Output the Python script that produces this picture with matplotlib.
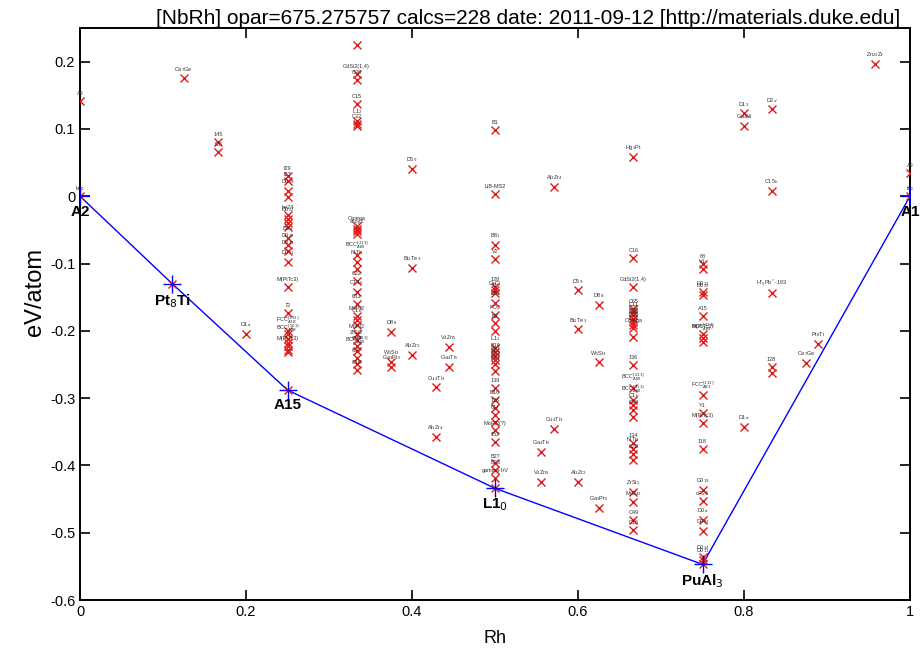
import matplotlib
matplotlib.use("Agg")
import matplotlib.pyplot as plt

plt.rcParams['font.family'] = ['Liberation Sans', 'DejaVu Sans']

title = "[NbRh] opar=675.275757 calcs=228 date: 2011-09-12 [http://materials.duke.edu]"

# all calculated structures: Rh fraction, formation energy (eV/atom), prototype
rh = [0, 0,
      0.125,
      0.1667, 0.1667,
      0.2,
      0.25, 0.25, 0.25, 0.25, 0.25, 0.25, 0.25, 0.25, 0.25, 0.25, 0.25, 0.25,
      0.25, 0.25, 0.25, 0.25, 0.25, 0.25, 0.25, 0.25, 0.25, 0.25,
      0.1111,
      0.3333, 0.3333, 0.3333, 0.3333, 0.3333, 0.3333, 0.3333,
      0.3333, 0.3333, 0.3333, 0.3333, 0.3333, 0.3333, 0.3333,
      0.3333, 0.3333, 0.3333, 0.3333, 0.3333, 0.3333, 0.3333,
      0.3333, 0.3333, 0.3333, 0.3333, 0.3333, 0.3333,
      0.375, 0.375, 0.375,
      0.4, 0.4, 0.4,
      0.4286, 0.4286,
      0.4444, 0.4444,
      0.5, 0.5, 0.5, 0.5, 0.5, 0.5, 0.5, 0.5, 0.5, 0.5, 0.5,
      0.5, 0.5, 0.5, 0.5, 0.5, 0.5, 0.5, 0.5, 0.5, 0.5, 0.5,
      0.5, 0.5, 0.5, 0.5, 0.5, 0.5,
      0.5556, 0.5556,
      0.5714, 0.5714,
      0.6, 0.6, 0.6,
      0.625, 0.625, 0.625,
      0.6667, 0.6667, 0.6667, 0.6667, 0.6667, 0.6667, 0.6667, 0.6667, 0.6667,
      0.6667, 0.6667, 0.6667, 0.6667, 0.6667, 0.6667, 0.6667, 0.6667, 0.6667,
      0.6667, 0.6667, 0.6667, 0.6667, 0.6667, 0.6667, 0.6667,
      0.75, 0.75, 0.75, 0.75, 0.75, 0.75, 0.75, 0.75, 0.75, 0.75,
      0.75, 0.75, 0.75, 0.75, 0.75, 0.75, 0.75, 0.75, 0.75,
      0.8, 0.8, 0.8,
      0.8333, 0.8333, 0.8333, 0.8333, 0.8333,
      0.875,
      0.8889,
      0.9583,
      1, 1]

energy = [0.142, 0.0,
          0.175,
          0.081, 0.066,
          -0.204,
          0.030, 0.022, 0.008, -0.001, -0.028, -0.034, -0.040, -0.046,
          -0.062, -0.072, -0.082, -0.098, -0.135, -0.174,
          -0.200, -0.205, -0.212, -0.218, -0.222, -0.228, -0.232, -0.288,
          -0.130,
          0.224, 0.182, 0.173, 0.137, 0.112, 0.108, 0.104,
          -0.044, -0.048, -0.052, -0.056, -0.088, -0.098, -0.108,
          -0.126, -0.142, -0.160, -0.178, -0.184, -0.192, -0.205,
          -0.214, -0.222, -0.230, -0.240, -0.250, -0.258,
          -0.202, -0.246, -0.254,
          0.040, -0.106, -0.236,
          -0.284, -0.358,
          -0.224, -0.253,
          0.098, 0.004, -0.072, -0.093, -0.135, -0.140, -0.144, -0.158,
          -0.177, -0.189, -0.200,
          -0.226, -0.232, -0.238, -0.244, -0.250, -0.259, -0.285, -0.303,
          -0.314, -0.325, -0.336,
          -0.348, -0.365, -0.397, -0.407, -0.419, -0.434,
          -0.380, -0.425,
          0.014, -0.346,
          -0.140, -0.198, -0.425,
          -0.162, -0.247, -0.463,
          0.059, -0.092, -0.135, -0.167, -0.172, -0.177, -0.182, -0.187,
          -0.192, -0.196, -0.209, -0.251, -0.285, -0.303, -0.310, -0.318,
          -0.328, -0.367, -0.375, -0.383, -0.392, -0.440, -0.455, -0.481,
          -0.496,
          -0.100, -0.108, -0.143, -0.147, -0.178, -0.204, -0.210, -0.217,
          -0.296, -0.322, -0.337, -0.376, -0.437, -0.453, -0.481, -0.497,
          -0.536, -0.541, -0.547,
          0.123, 0.104, -0.343,
          0.129, 0.008, -0.144, -0.254, -0.262,
          -0.248,
          -0.219,
          0.196,
          0.035, 0.0]

proto = ['A9', 'bcc',
         'Ca$_7$Ge',
         '145', 'f38',
         'D1$_a$',
         'f29', 'f27', 'D0$_{19}$', '', 'be24', 'D0$_{22}$', '', '',
         'D0$_a$', 'D0$_{22}$', 'D0$_{23}$', 'D0$_{11}$', 'M(PtTc3)', '72',
         'FCC$_{A3B}^{[113]}$', '', 'BCC$_{A3B}^{[001]}$', '', 'M(PtTc3)', '', '', '',
         '',
         '', 'GdSi2(1,4)', 'C38', 'C15', 'L1$_2$', 'C32', '',
         'Omega', 'alloy2', '', '', 'BCC$_{AB2}^{[211]}$', 'NiTi$_2$', '',
         'C22', 'C11$_b$', 'C11', 'MoPt2', 'C1$_b$', '', 'MoPt2',
         'ZrSi2', 'C49', 'BCC$_{AB2}^{[311]}$', 'C37', '', 'C16',
         'D8$_8$', 'W$_5$Si$_3$', 'Ga$_3$Pt$_5$',
         'D5$_9$', 'Bi$_2$Te$_3$', 'Al$_3$Zr$_2$',
         'Cu$_4$Ti$_3$', 'Al$_3$Zr$_4$',
         'V$_4$Zn$_5$', 'Ga$_4$Ti$_5$',
         'B1', 'LiB-MS2', 'B8$_1$', 'V2', '128', 'CsCl', '11', 'B8$_1$',
         'FCC', 'B2', '',
         'L1$_1$', 'B19', 'B27', 'B33', 'B11', '', '139', 'D10',
         '126', 'CH', '',
         'MoPt2(?)', '152', 'B27', 'B33', 'gamma-IrV', '',
         'Ga$_4$Ti$_5$', 'V$_4$Zn$_5$',
         'Al$_3$Zr$_4$', 'Cu$_4$Ti$_3$',
         'D5$_9$', 'Bi$_2$Te$_3$', 'Al$_3$Zr$_2$',
         'D8$_8$', 'W$_5$Si$_3$', 'Ga$_3$Pt$_5$',
         'Hg$_2$Pt', 'C16', 'GdSi2(1,4)', 'C65', 'C11', 'C32', 'C38', 'C15',
         'C37', 'Omega', '', '136', 'BCC$_{AB2}^{[211]}$', 'BCC$_{AB2}^{[311]}$', 'C1$_b$', 'C49',
         '', '134', 'NiTi$_2$', 'C22', '', 'ZrSi$_2$', 'MoSi$_2$', 'C49',
         'C16',
         '68', 'V1', 'D0$_{22}$', 'D0$_{23}$', 'A15', 'M(PtTc3)', 'BCC$_{AB3}^{[311]}$', '',
         'FCC$_{AB3}^{[113]}$', 'Y1', 'M(PtTc3)', '118', 'D0$_{19}$', 'oP24', 'D0$_a$', 'D0$_{23}$',
         'D0$_{24}$', 'D0$_{11}$', '',
         'D1$_3$', 'Ga$_3$Ni', 'D1$_a$',
         'D2$_d$', 'C15$_b$', 'Hf$_5$Pb$^*$-193', '128', '',
         'Ca$_7$Ge',
         'Pt$_8$Ti',
         'Zn$_{22}$Zr',
         'A9', 'fcc']

# convex hull
hull_rh = [0, 0.1111, 0.25, 0.5, 0.75, 1]
hull_e = [0, -0.130, -0.288, -0.434, -0.547, 0]
hull_names = ['A2', 'Pt$_8$Ti', 'A15', 'L1$_0$', 'PuAl$_3$', 'A1']

fig = plt.figure(figsize=(9.22, 6.51), dpi=100)
ax = fig.add_axes([0.0868, 0.0783, 0.9002, 0.8787])

ax.plot(hull_rh, hull_e, color='#0000ff', lw=1, zorder=2)
ax.plot(rh, energy, 'x', color='#dd1c1c', ms=5.5, mew=1.0, ls='none', zorder=3)
ax.plot(hull_rh, hull_e, '+', color='#0000ff', ms=13, mew=1.0, ls='none', zorder=4)

for x, y, p in zip(rh, energy, proto):
    if p:
        ax.annotate(p, (x, y), xytext=(0, 3.5), textcoords='offset points',
                    ha='center', va='bottom', fontsize=4, color='#333333')

for x, y, n in zip(hull_rh, hull_e, hull_names):
    ax.annotate(n, (x, y), xytext=(0, -6), textcoords='offset points',
                ha='center', va='top', fontsize=11, fontweight='bold')

ax.set_xlim(0, 1)
ax.set_ylim(-0.6, 0.25)
ax.set_xticks([0, 0.2, 0.4, 0.6, 0.8, 1])
ax.set_xticklabels(['0', '0.2', '0.4', '0.6', '0.8', '1'])
ax.set_yticks([-0.6, -0.5, -0.4, -0.3, -0.2, -0.1, 0, 0.1, 0.2])
ax.set_yticklabels(['-0.6', '-0.5', '-0.4', '-0.3', '-0.2', '-0.1', '0', '0.1', '0.2'])
ax.tick_params(direction='in', length=7, width=1.2, top=True, right=True, labelsize=10.5)
for s in ax.spines.values():
    s.set_linewidth(1.4)

ax.set_xlabel('Rh', fontsize=13, labelpad=8)
fig.text(35 / 922, 1 - 292 / 651, 'eV/atom', fontsize=17, rotation=90,
         ha='center', va='center')
fig.text(528 / 922, 1 - 18 / 651, title, fontsize=15, ha='center', va='center')

fig.savefig('out.png', dpi=100)
